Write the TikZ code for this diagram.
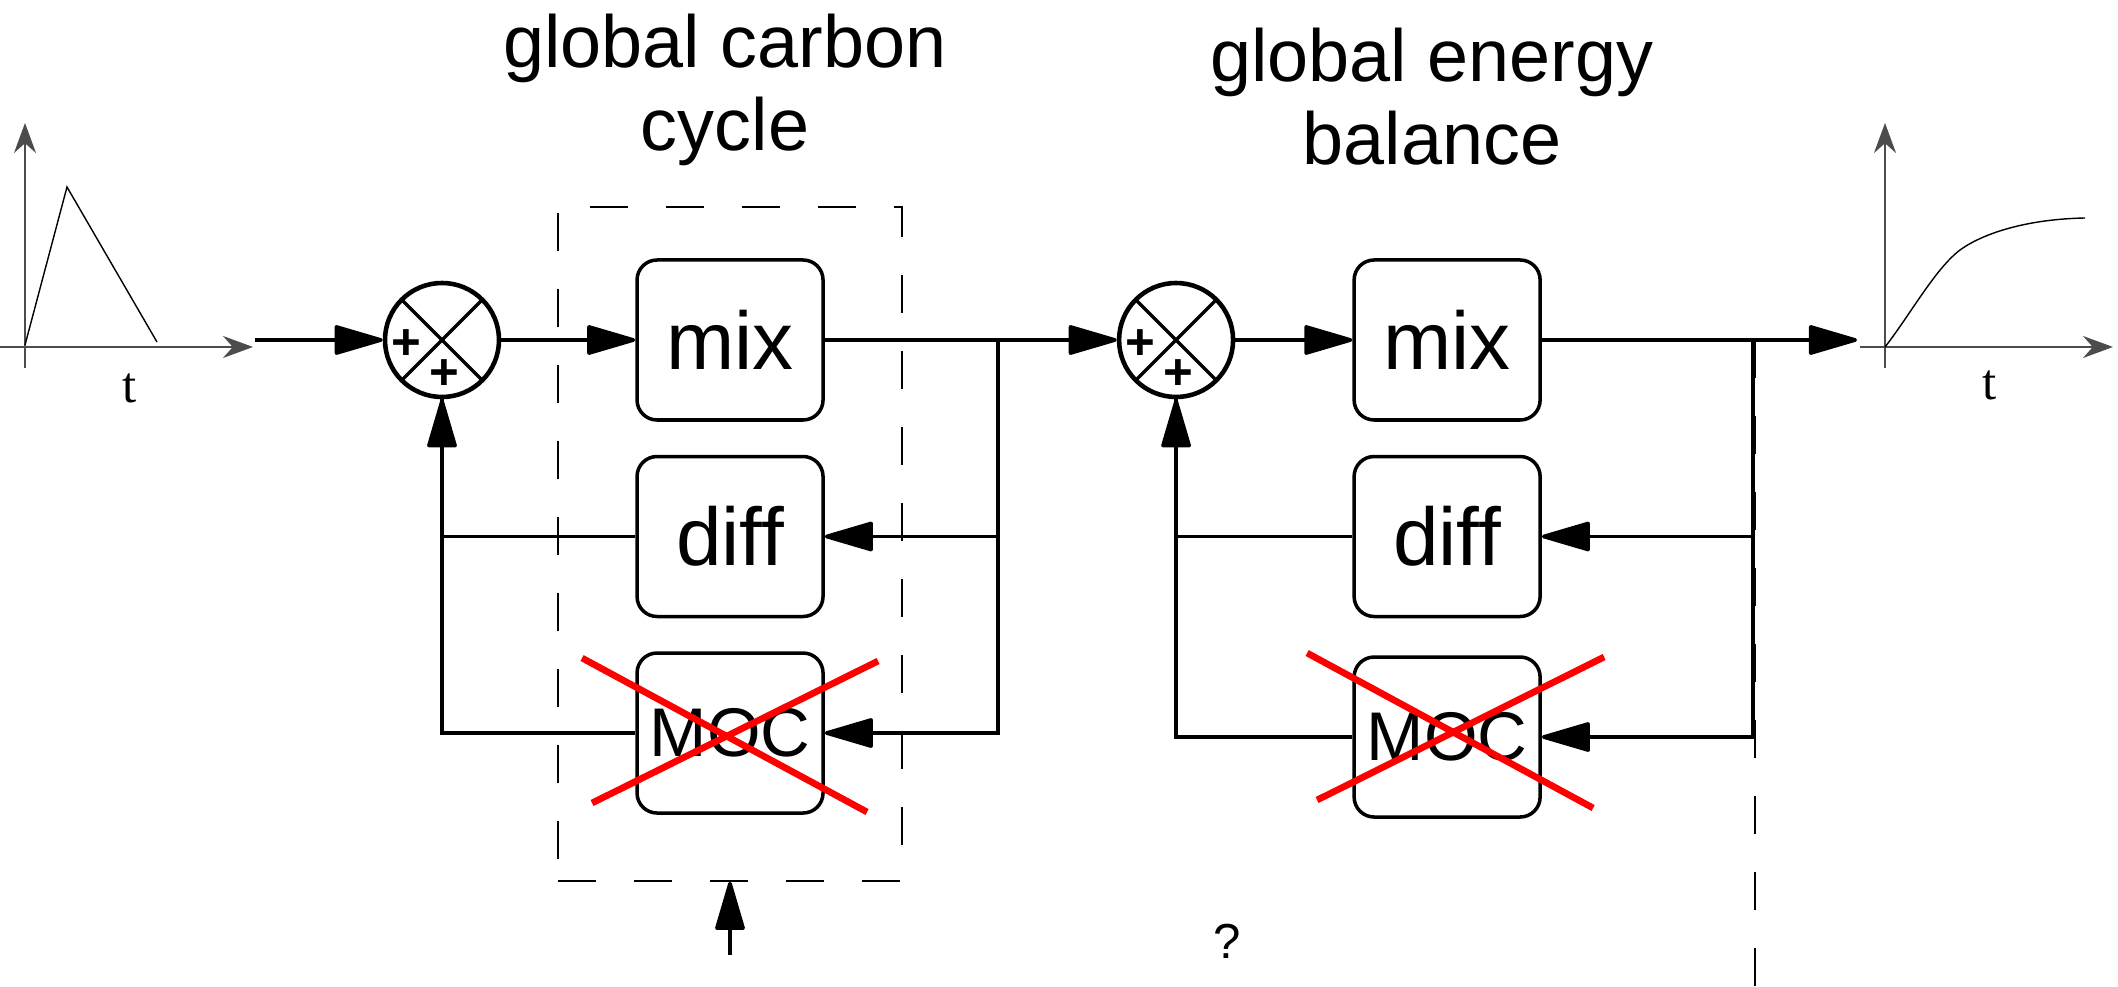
\documentclass[tikz,border=0pt]{standalone}
\usepackage{fontspec}
\setmainfont{Liberation Sans}
\newfontfamily\plotfont{Liberation Serif}
\usetikzlibrary{arrows.meta, positioning, calc}

\begin{document}
\begin{tikzpicture}[
node distance=0.33cm and 1.34cm,
blk/.style={rectangle, draw, line width=1pt, rounded corners=0.2cm, minimum width=1.86cm, minimum height=1.6cm, inner sep=0pt, font=\fontsize{23.3}{28}\selectfont},
sum/.style={circle, draw, line width=1.3pt, minimum size=1.14cm, inner sep=0pt, path picture={\draw[line width=0.95pt] (path picture bounding box.north west) -- (path picture bounding box.south east) (path picture bounding box.north east) -- (path picture bounding box.south west);}},
sign/.style={font=\fontsize{14.5}{17}\selectfont\bfseries, inner sep=0pt},
line/.style={line width=1.05pt},
flow/.style={line, -{Triangle[length=0.53cm, width=0.3cm, round]}},
cross/.style={red, line width=1.9pt},
frame/.style={draw, line width=0.45pt, dash pattern=on 0.38cm off 0.38cm},
axis/.style={black!70, line width=0.5pt, -{Stealth[length=0.3cm, width=0.22cm]}},
sig/.style={line width=0.4pt},
tlabel/.style={font=\plotfont\fontsize{14.5}{17}\selectfont},
title/.style={align=center, font=\fontsize{21}{23.6}\selectfont}
]
\useasboundingbox (0,0) rectangle (21.18,9.87);

\draw[axis] (0,6.40) -- (2.53,6.40);
\draw[axis] (0.25,6.19) -- (0.25,8.64);
\draw[sig] (0.25,6.42) -- (0.67,8.00) -- (1.57,6.45);
\node[tlabel] (tin) at (1.30,5.99) {t};

\node[title] (ttl1) at (7.25,8.97) {global carbon\\cycle};
\node[title] (ttl2) at (14.32,8.90) {global energy\\balance};

\node[sum] (sum1) at (4.42,6.47) {};
\node[sign] (sum1a) at ([shift={(-0.36,-0.05)}]sum1) {+};
\node[sign] (sum1b) at ([shift={(0.02,-0.35)}]sum1) {+};
\node[blk, right=of sum1] (mix1) {mix};
\node[blk, below=of mix1] (diff1) {diff};
\node[blk, below=of diff1, font=\fontsize{19.6}{24}\selectfont] (moc1) {MOC};

\node[sum, right=2.92cm of mix1] (sum2) {};
\node[sign] (sum2a) at ([shift={(-0.36,-0.05)}]sum2) {+};
\node[sign] (sum2b) at ([shift={(0.02,-0.35)}]sum2) {+};
\node[blk, right=1.17cm of sum2] (mix2) {mix};
\node[blk, below=of mix2] (diff2) {diff};
\node[blk, below=0.37cm of diff2, font=\fontsize{19.6}{24}\selectfont] (moc2) {MOC};

\node[frame, minimum width=3.44cm, minimum height=6.74cm] (cc) at (7.30,4.43) {};
\coordinate (in) at (2.55,6.47);
\coordinate (split1) at (9.98,6.47);
\coordinate (split2) at (17.53,6.47);
\coordinate (out) at (18.57,6.47);
\coordinate (ctrl) at (7.30,0.32);

\draw[flow] (in) -- (sum1);
\draw[flow] (sum1) -- (mix1);
\draw[flow] (mix1) -- (sum2);
\draw[flow] (split1) |- (diff1);
\draw[flow] (split1) |- (moc1);
\draw[line] (diff1) -| (sum1);
\draw[flow] (moc1) -| (sum1);
\draw[flow] (ctrl) -- (cc.south);

\draw[flow] (sum2) -- (mix2);
\draw[flow] (mix2) -- (out);
\draw[flow] (split2) |- (diff2);
\draw[flow] (split2) |- (moc2);
\draw[line] (diff2) -| (sum2);
\draw[flow] (moc2) -| (sum2);
\draw[frame] (17.55,6.47) -- (17.55,0);

\draw[cross] ([shift={(-1.48,0.75)}]moc1.center) -- ([shift={(1.37,-0.79)}]moc1.center);
\draw[cross] ([shift={(-1.38,-0.70)}]moc1.center) -- ([shift={(1.48,0.72)}]moc1.center);
\draw[cross] ([shift={(-1.40,0.84)}]moc2.center) -- ([shift={(1.46,-0.71)}]moc2.center);
\draw[cross] ([shift={(-1.30,-0.63)}]moc2.center) -- ([shift={(1.57,0.80)}]moc2.center);

\node (qm) at (12.27,0.46) {\fontsize{14}{16}\selectfont ?};

\draw[axis] (18.60,6.40) -- (21.13,6.40);
\draw[axis] (18.85,6.19) -- (18.85,8.64);
\draw[sig] (18.85,6.40) .. controls (19.10,6.72) and (19.35,7.18) .. (19.60,7.37) .. controls (19.85,7.55) and (20.30,7.68) .. (20.85,7.69);
\node[tlabel] (tout) at (19.90,6.02) {t};
\end{tikzpicture}
\end{document}
